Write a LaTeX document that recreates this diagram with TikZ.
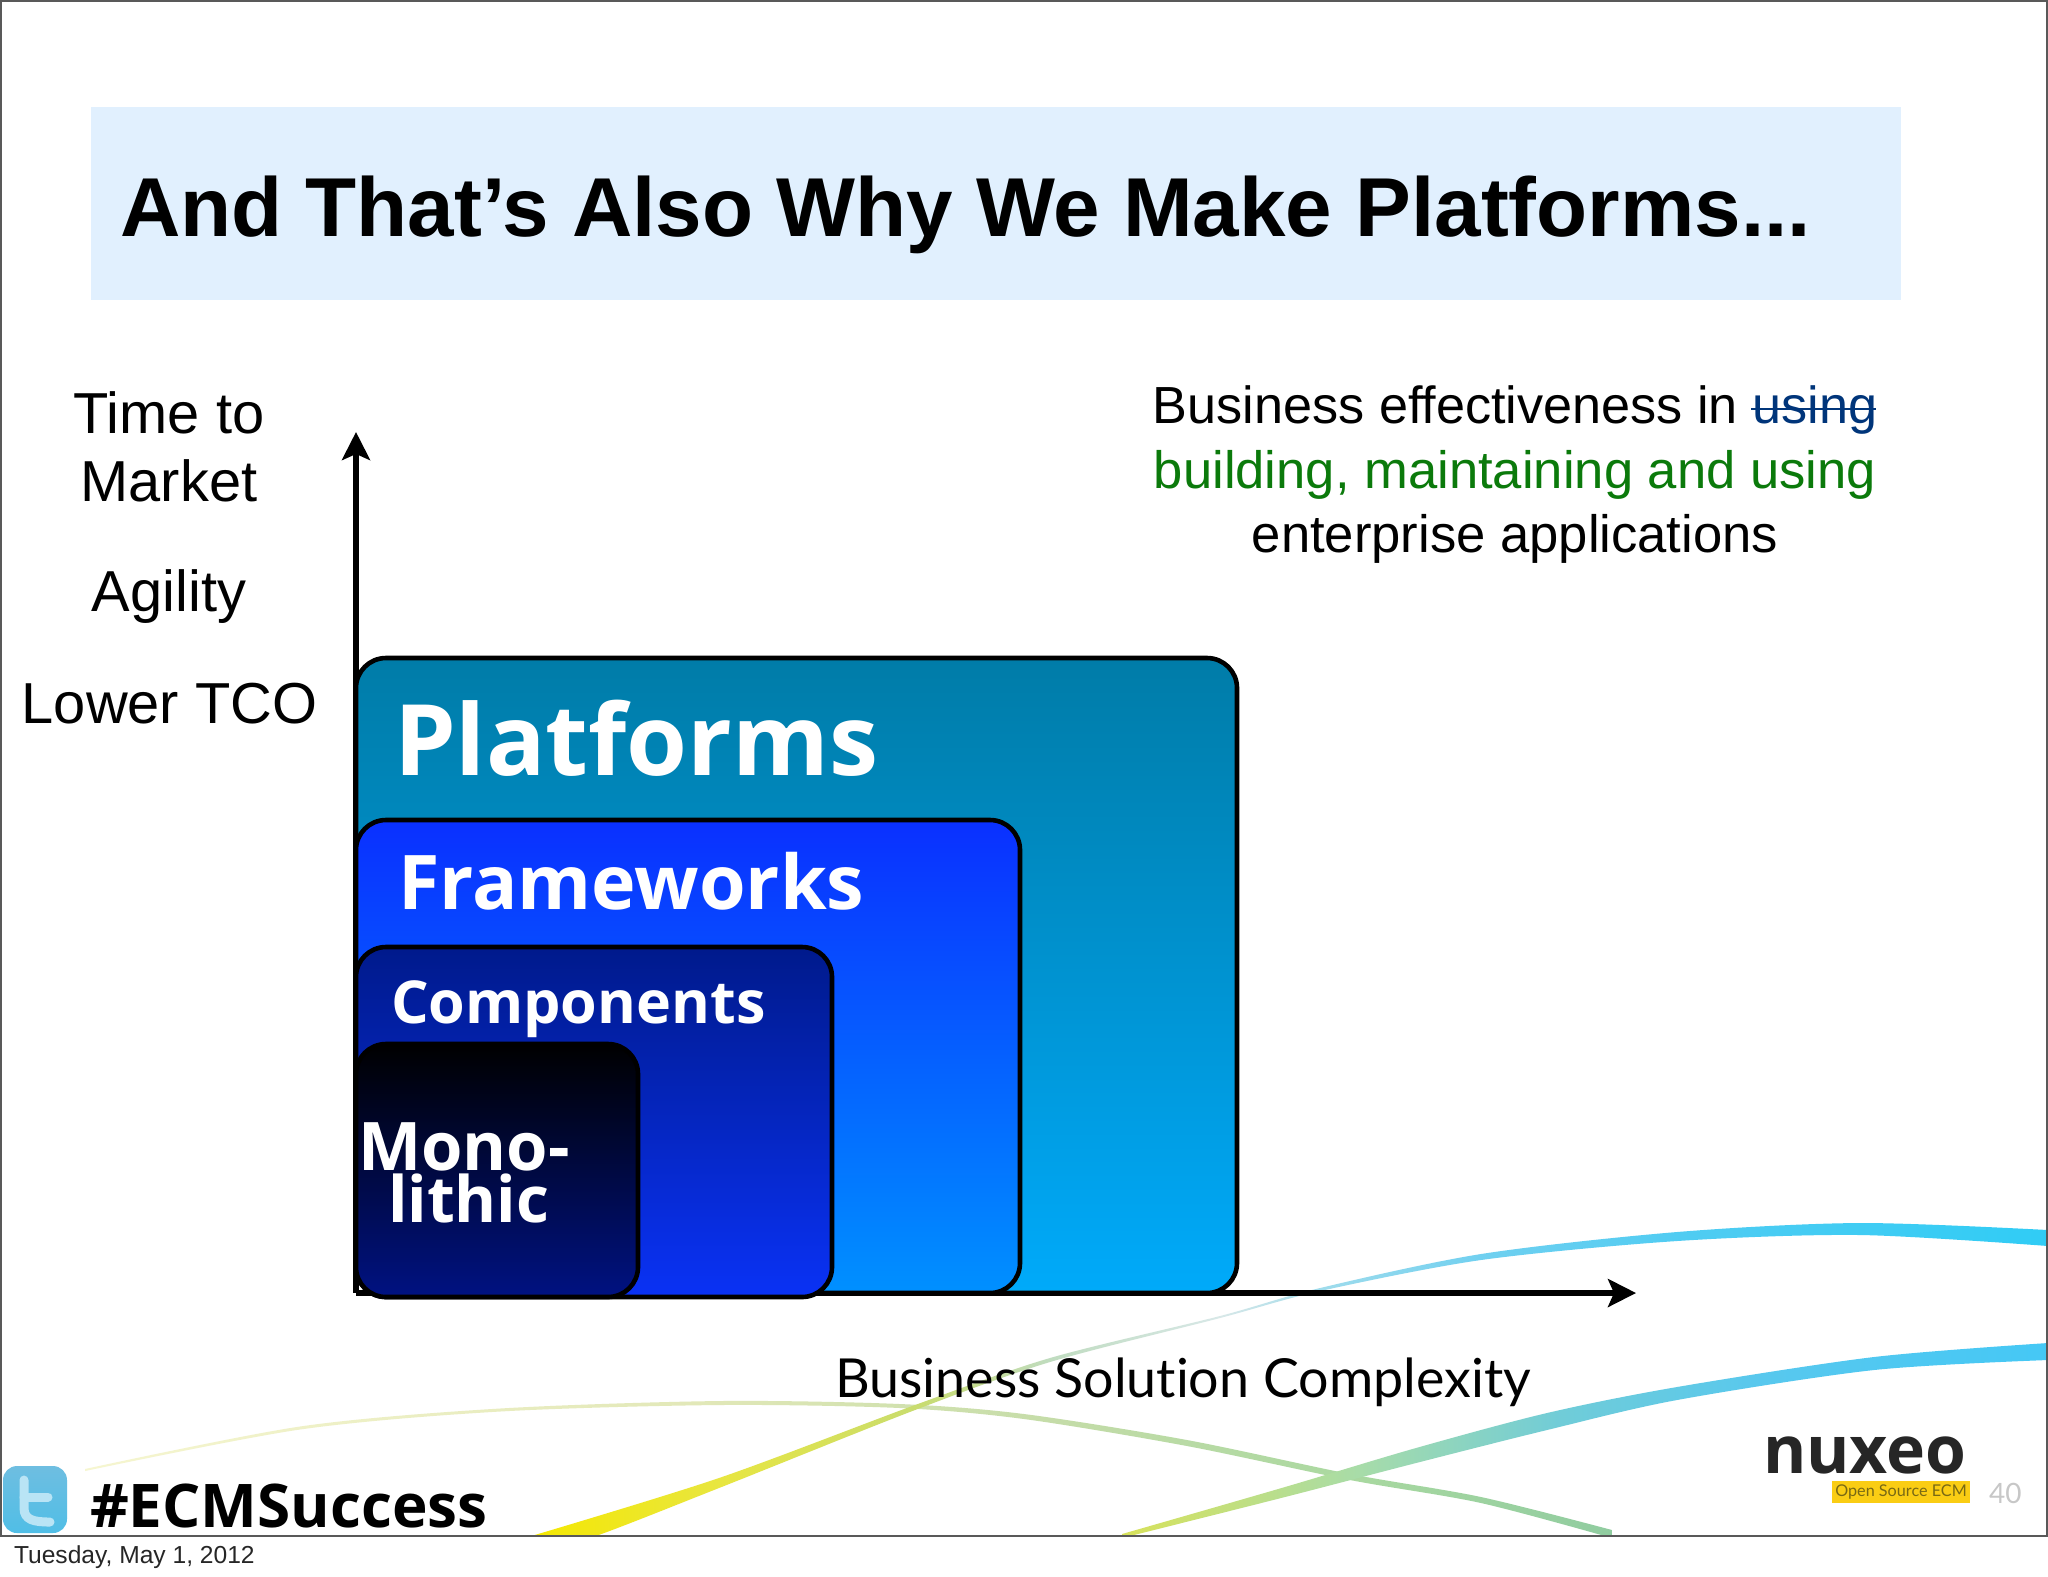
\documentclass[tikz,border=0pt]{standalone}
\usepackage{fontspec}
\usetikzlibrary{arrows.meta}
\setmainfont{Liberation Sans}
\newfontfamily\lucidaf{Open Sans}
\newfontfamily\gillf[Ligatures=CommonOff]{Lato}
\definecolor{band}{HTML}{E1F0FE}
\definecolor{strikeblue}{HTML}{00357A}
\definecolor{greentxt}{HTML}{0B7A0B}
\definecolor{platT}{HTML}{007CA8}
\definecolor{platB}{HTML}{00AAFA}
\definecolor{framT}{HTML}{0A30FF}
\definecolor{framM}{HTML}{0058FF}
\definecolor{framB}{HTML}{0090FF}
\definecolor{compT}{HTML}{001A8C}
\definecolor{compB}{HTML}{0A32F5}
\definecolor{monoM}{HTML}{000640}
\definecolor{monoB}{HTML}{001282}
\definecolor{twT}{HTML}{6EBEE1}
\definecolor{twB}{HTML}{50BEE6}
\definecolor{twL}{HTML}{B9E4F5}
\definecolor{logoY}{HTML}{FACD14}
\definecolor{logoT}{HTML}{786914}
\definecolor{a0}{HTML}{F5E800}
\definecolor{a1}{HTML}{E8E640}
\definecolor{a2}{HTML}{C8DC70}
\definecolor{a3}{HTML}{C0DCC0}
\definecolor{a4}{HTML}{D8E8E8}
\definecolor{a5}{HTML}{A0DCEC}
\definecolor{a6}{HTML}{70D0F0}
\definecolor{a7}{HTML}{50CCF2}
\definecolor{a8}{HTML}{30CCF5}
\definecolor{b0}{HTML}{D8E25A}
\definecolor{b1}{HTML}{A8DCA8}
\definecolor{b2}{HTML}{70CCD8}
\definecolor{b3}{HTML}{58C8EE}
\definecolor{b4}{HTML}{45C8F5}
\definecolor{c0}{HTML}{F6F6D0}
\definecolor{c1}{HTML}{E2E8B8}
\definecolor{c2}{HTML}{C4DCA8}
\definecolor{c3}{HTML}{A8D8A0}
\definecolor{c4}{HTML}{90CCA0}
\pgfdeclarehorizontalshading{swA}{100bp}{color(0bp)=(a0);
 color(25bp)=(a0);
 color(31.3bp)=(a1);
 color(37.9bp)=(a2);
 color(42.2bp)=(a3);
 color(47.8bp)=(a4);
 color(51bp)=(a5);
 color(56.4bp)=(a6);
 color(62.9bp)=(a7);
 color(75bp)=(a8);
 color(100bp)=(a8)}
\pgfdeclarehorizontalshading{swB}{100bp}{color(0bp)=(b0);
 color(25bp)=(b0);
 color(37.7bp)=(b1);
 color(48.7bp)=(b2);
 color(59.6bp)=(b3);
 color(75bp)=(b4);
 color(100bp)=(b4)}
\pgfdeclarehorizontalshading{swC}{100bp}{color(0bp)=(c0);
 color(25bp)=(c0);
 color(45bp)=(c1);
 color(57bp)=(c2);
 color(67bp)=(c3);
 color(75bp)=(c4);
 color(100bp)=(c4)}
\tikzset{
 x=0.5pt,y=-0.5pt,
 stack/.style={draw=black,line width=2.3pt,rounded corners=15pt},
 lab/.style={inner sep=0pt,outer sep=0pt},
 stacklab/.style={lab,anchor=base west,text=white},
 axis/.style={draw=black,line width=2.6pt,-{Stealth[length=14pt,width=14pt,inset=3pt]}},
 side/.style={lab,anchor=base,font=\fontsize{28.9}{30}\selectfont},
 quote/.style={lab,anchor=base,font=\fontsize{26.3}{28}\selectfont},
}
\begin{document}
\begin{tikzpicture}
\useasboundingbox (0,0) rectangle (2048,1576);
\fill[white] (0,0) rectangle (2048,1576);
% swooshes
\begin{scope}
\clip (0,0) rectangle (2047,1535);
\shade[shading=swC] plot[smooth] coordinates {(85,1469)(300,1426.5)(500,1408.5)(720,1401)(900,1404)(1024,1414)(1187,1440)(1350,1474)(1481,1497)(1612,1530)}
 -- plot[smooth] coordinates {(1612,1538)(1481,1503)(1350,1480)(1187,1446)(1024,1419)(900,1408)(720,1405)(500,1411.5)(300,1429.5)(85,1471)} -- cycle;
\shade[shading=swA] plot[smooth] coordinates {(528,1537)(719,1478)(915,1405)(1050,1358)(1220,1316)(1318,1288.5)(1481,1254)(1677,1232)(1860,1223)(2048,1230)}
 -- plot[smooth] coordinates {(2048,1246)(1860,1235)(1677,1241)(1481,1260)(1318,1291.5)(1220,1318)(1050,1362)(915,1410)(719,1488)(590,1538)(528,1552)} -- cycle;
\shade[shading=swB] plot[smooth] coordinates {(1122,1534)(1285,1487)(1416,1448)(1547,1413)(1677,1387)(1874,1357)(2048,1343)}
 -- plot[smooth] coordinates {(2048,1360)(1874,1370)(1677,1400)(1547,1430)(1416,1463)(1285,1497)(1122,1538)} -- cycle;
\end{scope}
% slide frame and title band
\draw[draw=black!65,line width=1pt] (1,1) rectangle (2047,1536);
\fill[band] (91,107) rectangle (1901,300);
\node[lab,anchor=base west,font=\fontsize{41.8}{46}\selectfont\bfseries] (title) at (120,236) {And That’s Also Why We Make Platforms...};
% side labels
\node[side] (ttm) at (169,433) {Time to};
\node[side] (mkt) at (169,501) {Market};
\node[side] (agi) at (169,611) {Agility};
\node[side] (tco) at (169.5,723) {Lower TCO};
% quote
\node[quote,font=\fontsize{26.1}{28}\selectfont] (q1) at (1515,423) {Business effectiveness in \textcolor{strikeblue}{using}};
\coordinate (s1) at (1751,409);
\coordinate (s2) at (1876,409);
\draw[strikeblue,line width=1.3pt] (s1) -- (s2);
\node[quote,text=greentxt] (q2) at (1515,488) {building, maintaining and using};
\node[quote] (q3) at (1515,552) {enterprise applications};
% axes
\coordinate (org) at (356,1293);
\coordinate (ytip) at (356,432);
\coordinate (xtip) at (1636,1293);
\draw[axis] (org) -- (ytip);
\draw[axis] (org) -- (xtip);
% stacked boxes
\draw[stack,top color=platT,bottom color=platB] (356,658) rectangle (1237,1293);
\draw[stack,top color=framT,middle color=framM,bottom color=framB] (356,820) rectangle (1020,1293);
\draw[stack,top color=compT,bottom color=compB] (356,947) rectangle (832,1297);
\draw[stack,top color=black,middle color=monoM,bottom color=monoB] (356,1044) rectangle (638,1297);
\node[stacklab,font=\lucidaf\bfseries\fontsize{49.3}{50}\selectfont] (plat) at (394,775) {Platforms};
\node[stacklab,font=\lucidaf\bfseries\fontsize{37.7}{40}\selectfont] (fram) at (398,909) {Frameworks};
\node[stacklab,font=\lucidaf\bfseries\fontsize{29.6}{32}\selectfont] (comp) at (391,1023) {Components};
\node[stacklab,font=\lucidaf\bfseries\fontsize{33.5}{34}\selectfont] (mono) at (358,1170) {Mono-};
\node[stacklab,font=\lucidaf\bfseries\fontsize{32}{34}\selectfont] (lith) at (388,1222) {lithic};
% x label
\node[lab,anchor=base,font=\gillf\fontsize{26.9}{30}\selectfont] (xlab) at (1183,1397) {Business Solution Complexity};
% twitter
\path[rounded corners=7pt,top color=twT,bottom color=twB] (3,1466) rectangle (67,1533);
\draw[draw=twL,line width=4.5pt,line cap=round,line join=round] (24,1480) -- (24,1508) .. controls (24,1520) and (34,1522) .. (50,1522);
\draw[draw=twL,line width=4.5pt,line cap=round] (24,1497) -- (48,1497);
\node[lab,anchor=base west,font=\lucidaf\bfseries\fontsize{30.1}{33}\selectfont] (tag) at (90,1527) {\#ECMSuccess};
% logo
\node[lab,anchor=base west,text=black!85,font=\lucidaf\bfseries\fontsize{33}{34}\selectfont] (nux) at (1763,1473) {nuxeo};
\fill[logoY] (1832,1481) rectangle (1970,1503);
\node[lab,text=logoT,font=\gillf\fontsize{8.1}{10}\selectfont] (oss) at (1901,1492) {Open Source ECM};
\node[lab,anchor=base west,text=black!22,font=\gillf\fontsize{14}{15}\selectfont] (pg) at (1989,1503) {40};
% date
\node[lab,anchor=base west,font=\fontsize{12.3}{14}\selectfont,text=black!85] (date) at (14,1563) {Tuesday, May 1, 2012};
\end{tikzpicture}
\end{document}
